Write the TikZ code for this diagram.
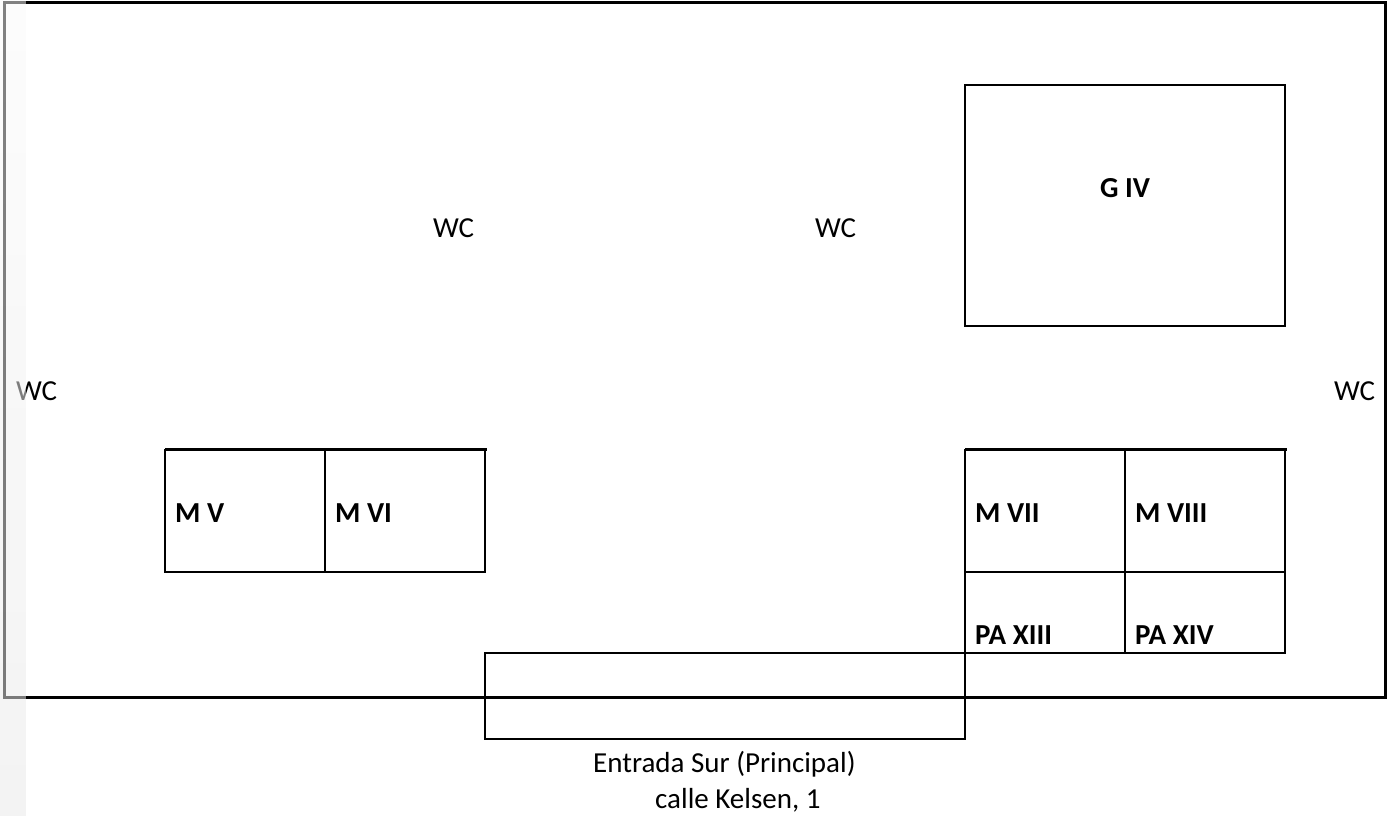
\documentclass[tikz,border=0pt]{standalone}
\usepackage{fontspec}
\setmainfont{Carlito}
\tikzset{
  wall/.style={line width=3pt},
  room/.style={line width=2pt},
  roomlabel/.style={anchor=base west, inner sep=0pt, font=\fontsize{29}{34}\selectfont\bfseries},
  plainlabel/.style={anchor=base west, inner sep=0pt, font=\fontsize{29}{34}\selectfont}
}
\begin{document}
\begin{tikzpicture}[x=1pt, y=-1pt]
  \useasboundingbox (0,0) rectangle (1393,816);
  \draw[wall] (4.5,2.5) rectangle (1385.5,697.5);

  \draw[room] (965,85) rectangle (1285,326);
  \node[roomlabel] (G) at (1100,197) {G IV};

  \draw[room] (165,450) rectangle (485,572);
  \draw[room] (325,450) -- (325,572);
  \draw[wall] (165,449.5) -- (487,449.5);
  \node[roomlabel] (MV) at (175,522.5) {M V};
  \node[roomlabel] (MVI) at (335,522.5) {M VI};

  \draw[room] (965,450) rectangle (1285,653);
  \draw[room] (1125,450) -- (1125,653);
  \draw[room] (965,572) -- (1285,572);
  \draw[wall] (965,449.5) -- (1287,449.5);
  \node[roomlabel] (MVII) at (975,522.5) {M VII};
  \node[roomlabel] (MVIII) at (1135,522.5) {M VIII};
  \node[roomlabel] (PAXIII) at (975,644) {PA XIII};
  \node[roomlabel] (PAXIV) at (1135,644) {PA XIV};

  \draw[room] (485,653) rectangle (965,739);

  \node[plainlabel] (WCa) at (433,237.5) {WC};
  \node[plainlabel] (WCb) at (815,237.5) {WC};
  \node[plainlabel] (WCc) at (16,400) {WC};
  \node[plainlabel] (WCd) at (1334,400) {WC};

  \node[plainlabel] (sur) at (593,772) {Entrada Sur (Principal)};
  \node[plainlabel] (calle) at (655,808) {calle Kelsen, 1};

  % franja izquierda
  \foreach \i in {0,...,15} {
    \pgfmathsetmacro{\tone}{2.3+0.45*\i}
    \fill[black!\tone!white, opacity=0.52] (0,51*\i) rectangle (26,51*\i+51);
  }
\end{tikzpicture}
\end{document}
